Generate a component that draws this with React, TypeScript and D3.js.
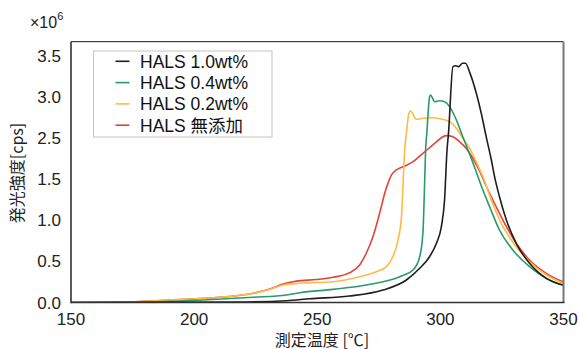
import React from "react";
import * as d3 from "d3";

const seriesNames = ["HALS 1.0wt%", "HALS 0.4wt%", "HALS 0.2wt%", "HALS 無添加"];
const seriesColors = ["#1e1e1e", "#2a9a6c", "#fdbb45", "#e5433a"];

// temperature (°C), intensity (×10^6 cps, as read against the axis labels)
const blackT = [150, 217, 237.5, 247, 263, 276.7, 286.2, 291.6, 295.6, 298.4, 300.4, 301.7, 302.7, 303.3, 305.1, 306.2, 307.4, 309, 310.2, 311.9, 314.6, 316.6, 318.6, 320.7, 322.0, 324, 326.8, 330.8, 336.2, 343, 350];
const blackV = [0, 0.006, 0.022, 0.046, 0.079, 0.152, 0.274, 0.416, 0.557, 0.72, 0.922, 1.247, 2.21, 2.56, 3.37, 3.38, 3.37, 3.41, 3.41, 3.3, 3.045, 2.802, 2.517, 1.967, 1.561, 1.287, 1.004, 0.72, 0.477, 0.294, 0.21];

const greenT = [150, 182, 203.7, 224, 237.5, 242.9, 256.4, 270, 283.5, 288.9, 291.6, 292.9, 293.6, 294, 294.5, 295.6, 296, 297.7, 299.7, 301.7, 303.8, 306.5, 309.1, 311.9, 314.6, 317.1, 320, 324, 329.4, 336.2, 343, 350];
const greenV = [0, 0.006, 0.03, 0.063, 0.091, 0.119, 0.16, 0.213, 0.314, 0.395, 0.557, 0.842, 1.45, 2.21, 2.56, 3.0, 3.024, 2.943, 2.955, 2.943, 2.88, 2.72, 2.517, 2.11, 1.675, 1.381, 1.165, 0.882, 0.639, 0.436, 0.294, 0.21];

const orangeT = [150, 170, 190.2, 210.4, 224, 230.7, 236.1, 242.9, 256.4, 267.2, 274, 278.1, 280.7, 282.8, 284.2, 285.1, 285.5, 286.2, 287.2, 287.9, 290.2, 292.9, 297, 301, 303.8, 306.5, 309.1, 311.9, 314.6, 317.3, 321.3, 325.4, 330.8, 336.2, 343, 350];
const orangeV = [0, 0.002, 0.03, 0.063, 0.112, 0.16, 0.213, 0.234, 0.253, 0.314, 0.375, 0.436, 0.557, 0.76, 1.044, 1.724, 2.21, 2.56, 2.8, 2.83, 2.729, 2.741, 2.748, 2.729, 2.7, 2.62, 2.495, 2.25, 1.918, 1.554, 1.198, 0.922, 0.679, 0.496, 0.335, 0.23];

const redT = [150, 170, 190.2, 210.4, 224, 230.7, 236.1, 241.6, 249.7, 256.4, 263.2, 267.2, 269.9, 272.6, 274.6, 276, 277.4, 278.7, 280.1, 282.1, 285.5, 288.9, 291.6, 295, 298.4, 301, 302.4, 305.1, 307.8, 310.5, 313.2, 315.9, 318.6, 322.7, 326.8, 330.8, 336.2, 343, 350];
const redV = [0, 0.002, 0.03, 0.063, 0.112, 0.164, 0.225, 0.26, 0.28, 0.307, 0.363, 0.456, 0.599, 0.8, 1.004, 1.165, 1.328, 1.45, 1.602, 1.724, 1.82, 1.926, 2.064, 2.235, 2.41, 2.517, 2.53, 2.517, 2.41, 2.25, 2.01, 1.7, 1.417, 1.162, 0.922, 0.72, 0.517, 0.355, 0.25];

const xTicks = [150, 200, 250, 300, 350];
const yTicks = [0, 0.5, 1.0, 1.5, 2.5, 3.0, 3.5];
const yTickLabels = ["0.0", "0.5", "1.0", "1.5", "2.5", "3.0", "3.5"];

const W = 579;
const H = 349;
const left = 71;
const right = 563.5;
const top = 41.7;
const bottom = 302.5;
const step = 41.1;

const FONT = "'Liberation Sans', Arial, 'Noto Sans CJK JP', sans-serif";
const CJK = "'Noto Sans CJK JP', 'Liberation Sans', sans-serif";

export default function App() {
  const x = d3.scaleLinear().domain([150, 350]).range([left, right]);
  // axis labels are evenly spaced (the chart skips 2.0), so a polylinear scale
  const y = d3
    .scaleLinear()
    .domain(yTicks)
    .range(yTicks.map((_, i) => bottom - i * step));

  const series = [
    { t: blackT, v: blackV },
    { t: greenT, v: greenV },
    { t: orangeT, v: orangeV },
    { t: redT, v: redV },
  ];
  const line = d3
    .line<[number, number]>()
    .x((d) => x(d[0]))
    .y((d) => y(d[1]))
    .curve(d3.curveMonotoneX);

  const drawOrder = [3, 2, 1, 0];

  return (
    <svg
      width={W}
      height={H}
      style={{ position: "absolute", left: 0, top: 0, background: "#fff" }}
      fontFamily={FONT}
    >
      <defs>
        <clipPath id="plot">
          <rect x={left} y={top} width={right - left} height={bottom - top} />
        </clipPath>
      </defs>
      <g clipPath="url(#plot)">
        {drawOrder.map((i) => (
          <path
            key={i}
            d={line(series[i].t.map((t, k) => [t, series[i].v[k]] as [number, number])) || ""}
            fill="none"
            stroke={seriesColors[i]}
            strokeWidth={1.6}
            strokeLinejoin="round"
          />
        ))}
      </g>
      {/* frame */}
      <line x1={left} x2={right} y1={top} y2={top} stroke="#444" strokeWidth={1.2} />
      <line x1={right} x2={right} y1={top} y2={bottom} stroke="#777" strokeWidth={2} />
      <line x1={left} x2={left} y1={top} y2={bottom + 0.8} stroke="#333" strokeWidth={1.6} />
      <line x1={left} x2={right + 1} y1={bottom} y2={bottom} stroke="#333" strokeWidth={1.6} />

      {/* y ticks */}
      {yTicks.map((v, i) => (
        <text key={v} x={61} y={y(v) + 6} textAnchor="end" fontSize={17} fill="#222">
          {yTickLabels[i]}
        </text>
      ))}
      {/* x ticks */}
      {xTicks.map((t) => (
        <text key={t} x={x(t)} y={325} textAnchor="middle" fontSize={17} fill="#222">
          {t}
        </text>
      ))}
      {/* multiplier */}
      <text x={30} y={28} fontSize={16} fill="#222">
        ×10
        <tspan dy={-8} fontSize={11}>
          6
        </tspan>
      </text>
      {/* axis titles */}
      <text x={322} y={346} textAnchor="middle" fontSize={16} fill="#222" fontFamily={CJK}>
        測定温度 [℃]
      </text>
      <text
        transform={`translate(23,173) rotate(-90)`}
        textAnchor="middle"
        fontSize={16}
        fill="#222"
        fontFamily={CJK}
      >
        発光強度[cps]
      </text>

      {/* legend */}
      <rect x={93.5} y={51} width={178.5} height={86} fill="#fff" stroke="#c4c4c4" strokeWidth={1} />
      {seriesNames.map((name, i) => {
        const cy = 61.3 + i * 21.3;
        return (
          <g key={name}>
            <line x1={115.5} x2={129.5} y1={cy} y2={cy} stroke={seriesColors[i]} strokeWidth={1.6} />
            <text x={140} y={cy + 6.5} fontSize={17.5} fill="#111">
              {name}
            </text>
          </g>
        );
      })}
    </svg>
  );
}
